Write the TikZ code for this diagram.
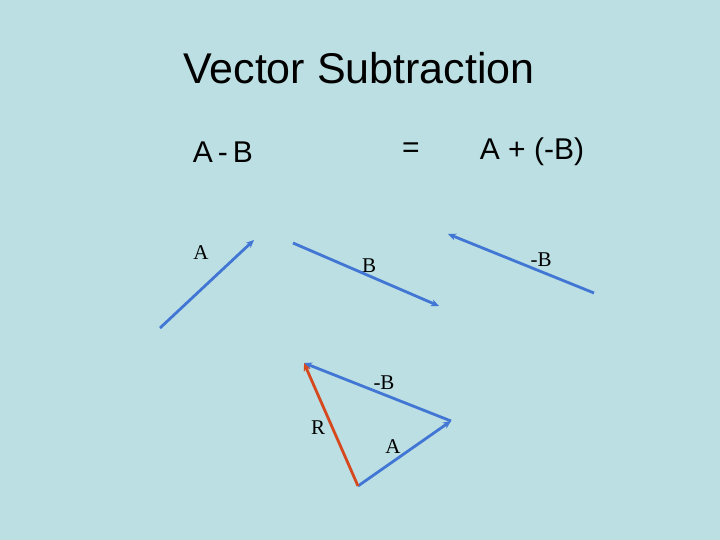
\documentclass[tikz,border=0pt]{standalone}
\usepackage{fontspec}
\setmainfont{Liberation Serif}
\newfontfamily\headfont{Liberation Sans}
\usetikzlibrary{arrows.meta}
\definecolor{bgblue}{RGB}{187,223,227}
\definecolor{vecblue}{RGB}{66,118,212}
\definecolor{vecred}{RGB}{214,72,30}
\tikzset{
  vec/.style={vecblue, line width=2.8pt, -{Stealth[length=8pt,width=7pt]}},
  rvec/.style={vec, vecred},
  lbl/.style={font=\fontsize{21}{21}\selectfont},
  head/.style={font=\headfont\fontsize{30}{30}\selectfont}
}
\begin{document}
\begin{tikzpicture}[x=1pt,y=-1pt]
  % background
  \fill[bgblue] (0,0) rectangle (720,540);
  \useasboundingbox (0,0) rectangle (720,540);
  % headings
  \node[font=\headfont\fontsize{43}{43}\selectfont] (title) at (359,68) {Vector Subtraction};
  \node[head] (diff) at (223,152) {A\hspace{5pt}-\hspace{5pt}B};
  \node[head] (eq) at (411,150) {=};
  \node[head] (sum) at (532,152) {A + (-B)};
  % single vectors
  \coordinate (a0) at (160,328); \coordinate (a1) at (254,240);
  \coordinate (b0) at (293,243); \coordinate (b1) at (439,306);
  \coordinate (n0) at (594,293); \coordinate (n1) at (448,234);
  \draw[vec] (a0) -- (a1);
  \draw[vec] (b0) -- (b1);
  \draw[vec] (n0) -- (n1);
  \node[lbl] (la) at (201,253) {A};
  \node[lbl] (lb) at (369,266) {B};
  \node[lbl] (ln) at (541,260) {-B};
  % triangle
  \coordinate (t0) at (358,486);
  \coordinate (t1) at (451,421);
  \coordinate (t2) at (304,363);
  \draw[vec] (t0) -- (t1);
  \draw[vec] (t1) -- (t2);
  \draw[rvec] (t0) -- (t2);
  \node[lbl] (tn) at (384,383) {-B};
  \node[lbl] (tr) at (318,428) {R};
  \node[lbl] (ta) at (393,447) {A};
\end{tikzpicture}
\end{document}
